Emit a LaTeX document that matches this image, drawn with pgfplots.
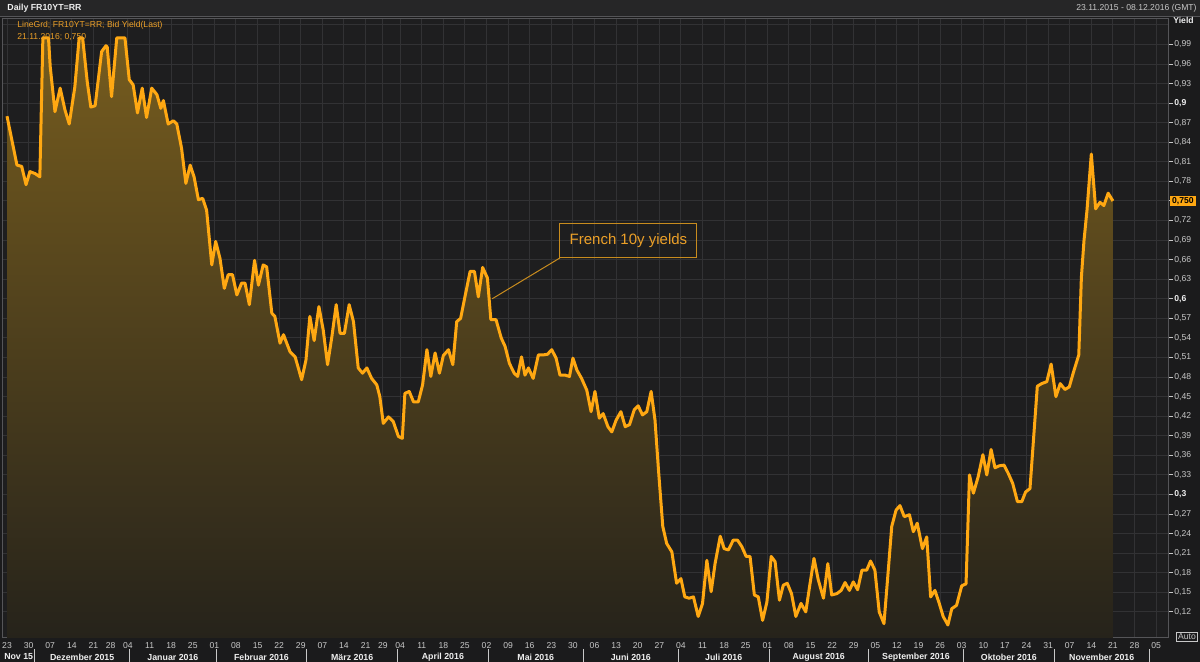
\documentclass[border=0pt]{standalone}
\usepackage{pgfplots}
\pgfplotsset{compat=1.18}
\usepackage{pgfplotstable}
\usepackage{fontspec}
\setmainfont{Liberation Sans}

\definecolor{bgc}{RGB}{27,27,28}
\definecolor{plotbg}{RGB}{30,30,31}
\definecolor{gridc}{RGB}{50,50,52}
\definecolor{linec}{RGB}{255,168,18}
\definecolor{fillTop}{RGB}{118,92,30}
\definecolor{fillBot}{RGB}{38,35,27}
\definecolor{txtc}{RGB}{200,200,200}
\definecolor{txtw}{RGB}{238,238,238}
\definecolor{orangetxt}{RGB}{236,160,40}
\definecolor{orangebd}{RGB}{200,140,30}
\definecolor{barbg}{RGB}{38,38,39}
\definecolor{sepc}{RGB}{85,85,88}

\tikzset{
  mlab/.style={font=\bfseries\fontsize{4.4}{5}\selectfont, text=txtw, inner sep=0pt, yshift=-9.5pt},
  mdiv/.style={txtc, line width=0.5pt},
}

\pgfplotstableread{
t v
0 0.880
2.3 0.805
3.4 0.803
4.4 0.775
5.3 0.795
6.5 0.792
7.6 0.787
8.3 1.000
9.6 1.000
10.0 0.956
11.1 0.887
12.3 0.923
13.4 0.890
14.4 0.868
15.7 0.925
16.7 1.000
17.5 1.000
18.6 0.931
19.4 0.894
20.4 0.896
21.9 0.979
22.9 0.988
23.2 0.986
24.2 0.910
25.4 1.000
27.3 1.000
28.3 0.936
29.2 0.928
30.2 0.885
31.3 0.923
32.3 0.878
33.5 0.923
34.7 0.913
35.6 0.892
36.2 0.904
37.3 0.868
38.5 0.873
39.3 0.868
40.4 0.831
41.4 0.777
42.4 0.805
43.3 0.787
44.3 0.752
45.3 0.754
46.2 0.736
47.4 0.652
48.3 0.688
49.3 0.662
50.3 0.616
51.2 0.637
52.2 0.637
53.2 0.606
54.3 0.624
55.1 0.624
56.1 0.591
57.3 0.659
58.2 0.621
59.3 0.652
60.1 0.649
61.3 0.578
62.0 0.573
63.2 0.532
64.0 0.545
65.5 0.519
66.7 0.511
68.2 0.476
69.2 0.506
70.1 0.573
71.1 0.536
72.2 0.588
73.2 0.552
74.2 0.499
75.2 0.542
76.2 0.591
77.1 0.547
78.1 0.547
79.2 0.591
80.2 0.565
81.3 0.494
82.3 0.486
83.3 0.494
84.4 0.478
85.6 0.468
86.3 0.450
87.1 0.409
88.3 0.419
89.4 0.412
90.6 0.389
91.5 0.386
92.1 0.455
93.1 0.458
94.1 0.442
95.2 0.442
96.2 0.468
97.2 0.522
98.1 0.481
99.1 0.517
100.1 0.486
101.0 0.513
102.2 0.522
103.2 0.499
104.1 0.565
105.0 0.570
106.0 0.603
107.2 0.642
108.2 0.642
109.1 0.603
110.1 0.648
111.2 0.632
112.0 0.568
113.2 0.568
114.4 0.540
115.3 0.527
116.3 0.501
117.4 0.486
118.2 0.481
119.1 0.511
119.9 0.483
120.7 0.494
121.8 0.478
123.0 0.514
124.1 0.514
125.1 0.515
126.1 0.522
127.1 0.509
128.0 0.483
129.2 0.483
130.2 0.481
131.0 0.509
131.9 0.491
133.0 0.478
134.2 0.460
135.2 0.427
136.1 0.458
137.1 0.417
138.0 0.424
139.1 0.404
140.0 0.396
141.0 0.414
142.1 0.427
143.1 0.404
144.1 0.407
145.2 0.430
146.1 0.436
147.1 0.422
148.1 0.427
149.1 0.458
150.0 0.414
150.8 0.338
151.8 0.251
152.7 0.225
153.9 0.212
155.0 0.164
156.0 0.171
156.9 0.143
157.9 0.141
158.9 0.143
160.0 0.113
161.0 0.133
162.0 0.199
163.0 0.151
163.9 0.194
165.1 0.236
166.0 0.217
167.0 0.215
168.1 0.230
169.1 0.230
170.1 0.220
171.1 0.205
172.0 0.205
173.0 0.146
173.9 0.143
174.9 0.107
175.9 0.135
176.9 0.205
177.8 0.197
178.8 0.138
179.7 0.161
180.6 0.164
181.6 0.148
182.6 0.113
183.8 0.133
184.9 0.120
185.9 0.164
186.8 0.202
187.8 0.169
189.0 0.141
190.0 0.194
190.9 0.146
192.1 0.148
193.1 0.153
194.0 0.165
195.0 0.153
195.9 0.166
196.9 0.154
197.9 0.184
199.0 0.184
199.9 0.198
200.9 0.184
201.9 0.120
203.0 0.102
204.0 0.184
204.8 0.251
205.8 0.276
206.7 0.283
207.7 0.266
208.9 0.269
209.8 0.243
210.7 0.256
211.9 0.217
212.9 0.235
213.8 0.143
214.8 0.153
215.8 0.133
216.7 0.113
217.8 0.100
218.7 0.125
219.8 0.130
221.0 0.160
222.0 0.163
222.8 0.330
223.7 0.302
224.8 0.327
225.9 0.361
226.8 0.330
227.8 0.369
228.7 0.341
229.7 0.344
230.8 0.345
231.8 0.332
232.8 0.317
233.9 0.289
234.9 0.289
235.8 0.304
236.8 0.309
238.5 0.466
239.5 0.470
240.7 0.473
241.7 0.500
242.8 0.450
243.8 0.470
244.9 0.461
245.9 0.465
246.8 0.486
248.1 0.514
248.7 0.633
249.3 0.689
250.0 0.736
251.0 0.822
252.0 0.738
253.0 0.748
253.9 0.743
254.9 0.762
256.0 0.750
}\yieldtable

\begin{document}
\begin{tikzpicture}
\fill[bgc] (0,0) rectangle (600pt,331pt);
\fill[barbg] (0,322.5pt) rectangle (600pt,331pt);
\draw[sepc, line width=0.5pt] (0,322.5pt) -- (600pt,322.5pt);

\begin{axis}[
  at={(1.5pt,12pt)}, anchor=south west,
  scale only axis, width=582.5pt, height=309.5pt,
  xmin=-0.93, xmax=268.75, ymin=0.080, ymax=1.029,
  axis background/.style={fill=plotbg},
  axis line style={draw=sepc, line width=0.5pt},
  grid=major, major grid style={draw=gridc, line width=0.5pt},
  xtick={0,5,10,15,20,24,28,33,38,43,48,53,58,63,68,73,78,83,87,91,96,101,106,111,116,121,126,131,136,141,146,151,156,161,166,171,176,181,186,191,196,201,206,211,216,221,226,231,236,241,246,251,256,261,266},
  xticklabels={23,30,07,14,21,28,04,11,18,25,01,08,15,22,29,07,14,21,29,04,11,18,25,02,09,16,23,30,06,13,20,27,04,11,18,25,01,08,15,22,29,05,12,19,26,03,10,17,24,31,07,14,21,28,05},
  ytick={0.12,0.15,0.18,0.21,0.24,0.27,0.30,0.33,0.36,0.39,0.42,0.45,0.48,0.51,0.54,0.57,0.60,0.63,0.66,0.69,0.72,0.75,0.78,0.81,0.84,0.87,0.90,0.93,0.96,0.99},
  yticklabels={{0,12},{0,15},{0,18},{0,21},{0,24},{0,27},{\bfseries\color{txtw}0,3},{0,33},{0,36},{0,39},{0,42},{0,45},{0,48},{0,51},{0,54},{0,57},{\bfseries\color{txtw}0,6},{0,63},{0,66},{0,69},{0,72},{},{0,78},{0,81},{0,84},{0,87},{\bfseries\color{txtw}0,9},{0,93},{0,96},{0,99}},
  extra y ticks={1.02}, extra y tick labels={},
  extra y tick style={major tick length=0pt, grid=major},
  ytick pos=right,
  yticklabel pos=right,
  xtick pos=bottom,
  tick align=outside,
  xtick style={draw=none},
  ytick style={draw=txtc, line width=0.5pt},
  major tick length=2.5pt,
  ticklabel style={font=\fontsize{4.3}{5}\selectfont, text=txtc},
  xticklabel style={inner sep=0pt, anchor=north, yshift=0.6pt},
  yticklabel style={inner sep=0pt, anchor=west, xshift=0.5pt},
  clip mode=individual,
]
\addplot[draw=none, top color=fillTop, bottom color=fillBot] table[x=t,y=v]{\yieldtable} \closedcycle;
\addplot[linec, line width=1.5pt, line join=round] table[x=t,y=v]{\yieldtable};

% month labels
\node[mlab] at (axis cs:2.7,0.080) {Nov 15};
\node[mlab] at (axis cs:17.4,0.080) {Dezember 2015};
\node[mlab] at (axis cs:38.4,0.080) {Januar 2016};
\node[mlab] at (axis cs:58.9,0.080) {Februar 2016};
\node[mlab] at (axis cs:79.9,0.080) {März 2016};
\node[mlab] at (axis cs:100.9,0.080) {April 2016};
\node[mlab] at (axis cs:122.4,0.080) {Mai 2016};
\node[mlab] at (axis cs:144.4,0.080) {Juni 2016};
\node[mlab] at (axis cs:165.9,0.080) {Juli 2016};
\node[mlab] at (axis cs:187.9,0.080) {August 2016};
\node[mlab] at (axis cs:210.4,0.080) {September 2016};
\node[mlab] at (axis cs:231.9,0.080) {Oktober 2016};
\node[mlab] at (axis cs:253.4,0.080) {November 2016};
% month dividers
\draw[mdiv] (axis cs:6.4,0.080) ++(0pt,-5.5pt) -- ++(0pt,-6.5pt);
\draw[mdiv] (axis cs:28.4,0.080) ++(0pt,-5.5pt) -- ++(0pt,-6.5pt);
\draw[mdiv] (axis cs:48.4,0.080) ++(0pt,-5.5pt) -- ++(0pt,-6.5pt);
\draw[mdiv] (axis cs:69.4,0.080) ++(0pt,-5.5pt) -- ++(0pt,-6.5pt);
\draw[mdiv] (axis cs:90.4,0.080) ++(0pt,-5.5pt) -- ++(0pt,-6.5pt);
\draw[mdiv] (axis cs:111.4,0.080) ++(0pt,-5.5pt) -- ++(0pt,-6.5pt);
\draw[mdiv] (axis cs:133.4,0.080) ++(0pt,-5.5pt) -- ++(0pt,-6.5pt);
\draw[mdiv] (axis cs:155.4,0.080) ++(0pt,-5.5pt) -- ++(0pt,-6.5pt);
\draw[mdiv] (axis cs:176.4,0.080) ++(0pt,-5.5pt) -- ++(0pt,-6.5pt);
\draw[mdiv] (axis cs:199.4,0.080) ++(0pt,-5.5pt) -- ++(0pt,-6.5pt);
\draw[mdiv] (axis cs:221.4,0.080) ++(0pt,-5.5pt) -- ++(0pt,-6.5pt);
\draw[mdiv] (axis cs:242.4,0.080) ++(0pt,-5.5pt) -- ++(0pt,-6.5pt);
\draw[mdiv] (axis cs:264.4,0.080) ++(0pt,-5.5pt) -- ++(0pt,-6.5pt);
% annotation
\draw[orangebd, line width=0.5pt] (axis cs:112.3,0.600) -- (axis cs:128.0,0.6627);
\draw[orangebd, line width=0.5pt] (axis cs:128.0,0.6627) rectangle (axis cs:159.7,0.7148);
\node[text=orangetxt, font=\fontsize{7.5}{9}\selectfont, inner sep=0pt] at (axis cs:143.85,0.6887) {French 10y yields};
% last value tag
\node[fill=linec, text=black, font=\bfseries\fontsize{4.3}{5}\selectfont, inner sep=0.9pt, anchor=west, xshift=1pt] at (axis cs:268.75,0.75) {0,750};
\end{axis}

\begin{scope}[x=0.5pt,y=-0.5pt,shift={(0pt,331pt)}]
\node[anchor=west, font=\bfseries\fontsize{4.4}{5}\selectfont, text=txtw, inner sep=0pt] at (7,8) {Daily FR10YT=RR};
\node[anchor=east, font=\fontsize{4.3}{5}\selectfont, text=txtc, inner sep=0pt] at (1197,8) {23.11.2015 - 08.12.2016 (GMT)};
\node[anchor=west, font=\bfseries\fontsize{4.3}{5}\selectfont, text=txtw, inner sep=0pt] at (1173,20) {Yield};
\node[anchor=west, font=\fontsize{4.3}{5}\selectfont, text=orangetxt, inner sep=0pt] at (17,25) {LineGrd; FR10YT=RR; Bid Yield(Last)};
\node[anchor=west, font=\fontsize{4.3}{5}\selectfont, text=orangetxt, inner sep=0pt] at (17,37) {21.11.2016; 0,750};
\node[draw=txtc, line width=0.4pt, text=txtc, font=\fontsize{4.3}{5}\selectfont, inner sep=0.8pt] at (1187,637) {Auto};
\end{scope}

\pgfresetboundingbox
\useasboundingbox (0,0) rectangle (600pt,331pt);
\end{tikzpicture}
\end{document}
